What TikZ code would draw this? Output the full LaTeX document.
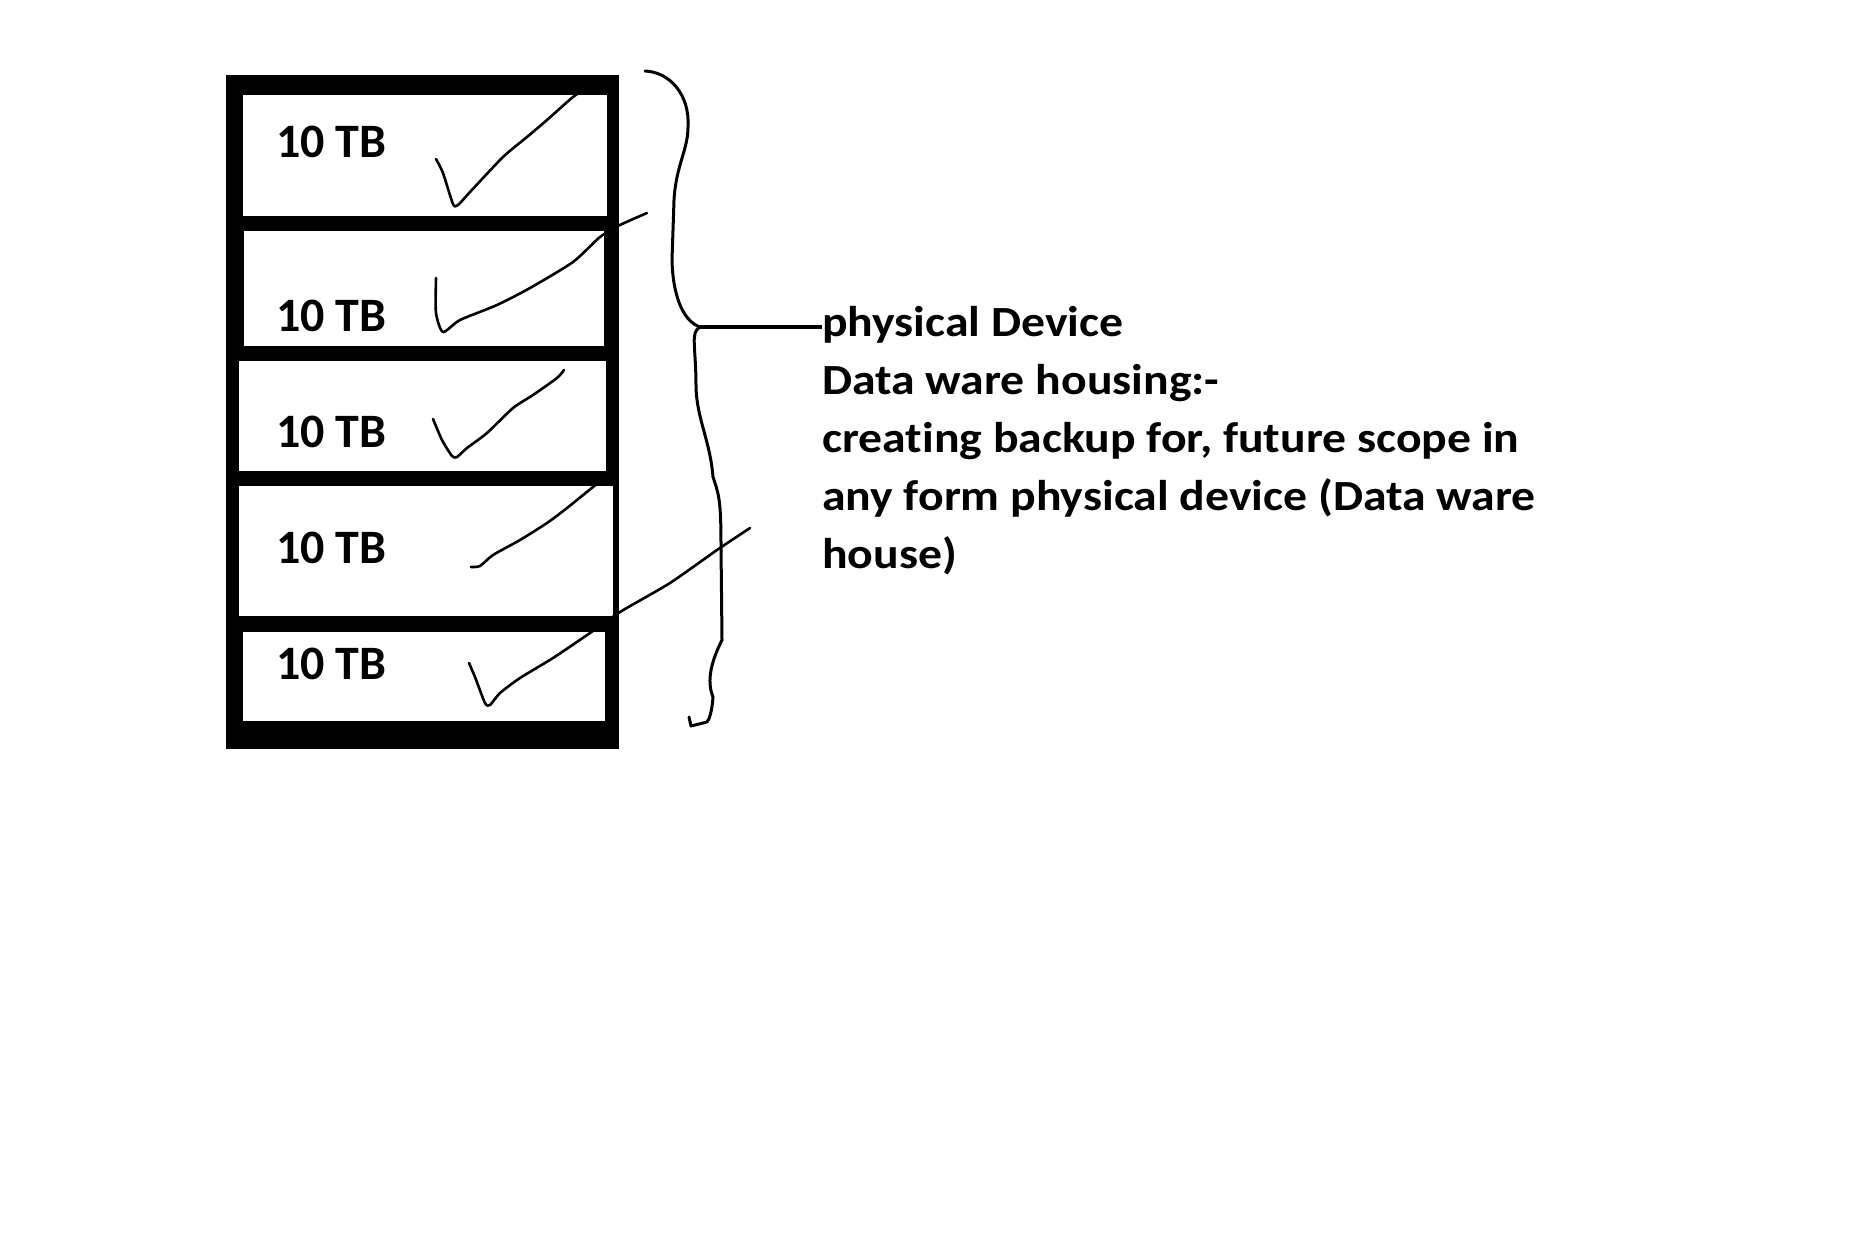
\documentclass[tikz,border=0pt]{standalone}
\usepackage{fontspec}
\usepackage{graphicx}
\setmainfont{Carlito}[Ligatures=NoCommon]
\begin{document}
\begin{tikzpicture}[x=1pt,y=-1pt,
  ink/.style={line width=2.6pt,line cap=round,line join=round},
  brace/.style={line width=3pt,line cap=round,line join=round},
  tb/.style={anchor=base west,inner sep=0pt,font=\fontsize{48}{58}\selectfont\bfseries},
  txt/.style={anchor=base west,inner sep=0pt,font=\fontsize{43}{58}\selectfont\bfseries}]
\useasboundingbox (0,0) rectangle (1870,1253);
\fill[white] (0,0) rectangle (1870,1253);
% rack frame
\fill[black] (226,75) rectangle (619,749);
\fill[white] (243,95) rectangle (607,216);
\fill[white] (244,231) rectangle (604,346);
\fill[white] (239,361) rectangle (606,471);
\fill[white] (239,486) rectangle (613,616);
\fill[white] (243,632) rectangle (605,721);
% labels
\node[tb] (d1) at (276,157) {10 TB};
\node[tb] (d2) at (276,331) {10 TB};
\node[tb] (d3) at (276,447) {10 TB};
\node[tb] (d4) at (276,563) {10 TB};
\node[tb] (d5) at (276,679) {10 TB};
% check marks
\draw[ink] plot[smooth,tension=0.4] coordinates {(436,159) (443,173) (453,204) (458,205) (470,192) (503,157) (527,137) (547,120) (573,97) (590,86)};
\draw[ink] plot[smooth,tension=0.4] coordinates {(436,278) (436,313) (443,332) (460,320) (497,305) (530,288) (573,262) (600,237) (620,225) (647,213)};
\draw[ink] plot[smooth,tension=0.4] coordinates {(433,419) (442,440) (452,456) (457,457) (467,448) (487,433) (513,408) (533,395) (557,378) (564,370)};
\draw[ink] plot[smooth,tension=0.4] coordinates {(471,567) (480,566) (493,555) (520,540) (547,523) (567,508) (593,487) (610,474)};
\draw[ink] plot[smooth,tension=0.4] coordinates {(469,663) (475,677) (485,703) (490,705) (500,693) (520,678) (553,658) (590,633) (620,612) (670,583) (717,550) (750,528)};
% brace
\coordinate (j) at (700,327);
\draw[brace] (645,71) .. controls (670,72) and (690,95) .. (688,127)
  .. controls (688,150) and (676,165) .. (674,200)
  -- (672,260) .. controls (673,300) and (685,322) .. (j);
\draw[brace] (j) .. controls (690,333) and (696,345) .. (696,387)
  .. controls (697,420) and (710,440) .. (713,477)
  .. controls (719,495) and (721,500) .. (721,547)
  -- (722,640) .. controls (712,660) and (706,680) .. (713,697)
  .. controls (712,712) and (709,720) .. (707,722)
  -- (691,726) -- (689,717);
% description
\node[txt] (l1) at (822,336) {\scalebox{1.11}[1]{physical Device}};
\node[txt] (l2) at (822,394) {\scalebox{1.11}[1]{Data ware housing:-}};
\node[txt] (l3) at (822,452) {\scalebox{1.11}[1]{creating backup for, future scope in}};
\node[txt] (l4) at (822,510) {\scalebox{1.11}[1]{any form physical device (Data ware}};
\node[txt] (l5) at (822,568) {\scalebox{1.11}[1]{house)}};
\coordinate (t) at (822,327);
\draw[line width=4pt] (j) -- (t);
\end{tikzpicture}
\end{document}
